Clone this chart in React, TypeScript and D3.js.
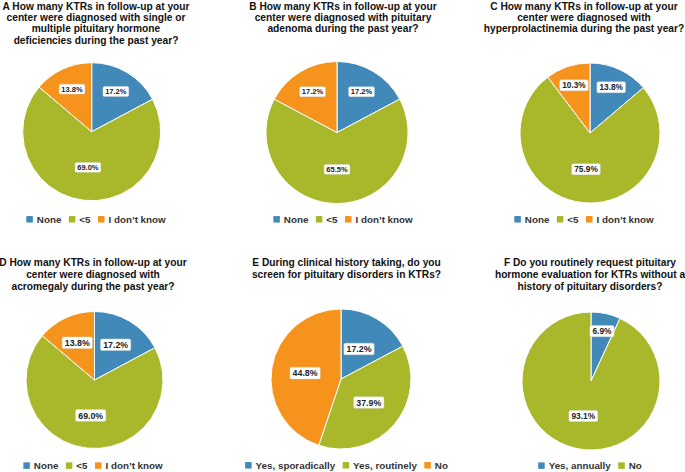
import * as d3 from 'd3'

const W = 685
const H = 472

const countCategories = ['None', '<5', 'I don\u2019t know']
const screenCategories = ['Yes, sporadically', 'Yes, routinely', 'No']
const evalCategories = ['Yes, annually', 'No']

const valuesA = [17.2, 69.0, 13.8]
const valuesB = [17.2, 65.5, 17.2]
const valuesC = [13.8, 75.9, 10.3]
const valuesD = [17.2, 69.0, 13.8]
const valuesE = [17.2, 37.9, 44.8]
const valuesF = [6.9, 93.1]

const titleA = [
  'A How many KTRs in follow-up at your',
  'center were diagnosed with single or',
  'multiple pituitary hormone',
  'deficiencies during the past year?',
]
const titleB = [
  'B How many KTRs in follow-up at your',
  'center were diagnosed with pituitary',
  'adenoma during the past year?',
]
const titleC = [
  'C How many KTRs in follow-up at your',
  'center were diagnosed with',
  'hyperprolactinemia during the past year?',
]
const titleD = [
  'D How many KTRs in follow-up at your',
  'center were diagnosed with',
  'acromegaly during the past year?',
]
const titleE = [
  'E During clinical history taking, do you',
  'screen for pituitary disorders in KTRs?',
]
const titleF = [
  'F Do you routinely request pituitary',
  'hormone evaluation for KTRs without a',
  'history of pituitary disorders?',
]

const COLORS = ['#4189b9', '#a8b82a', '#f6931c']
const FONT = '"Liberation Sans", Arial, sans-serif'

// layout per panel: title/legend center, pie center and radius,
// label font size and label distance (fraction of radius) for small slices
const panels = [
  { title: titleA, values: valuesA, cats: countCategories, tx: 96, ty: 5.8, lh: 11.4, cx: 91.7, cy: 131.7, r: 69, ly: 219.3, fs: 7.5, lk: 0.68 },
  { title: titleB, values: valuesB, cats: countCategories, tx: 343, ty: 5.8, lh: 11.4, cx: 337, cy: 132.5, r: 71, ly: 219.3, fs: 7.5, lk: 0.67 },
  { title: titleC, values: valuesC, cats: countCategories, tx: 584, ty: 5.8, lh: 11.4, cx: 590, cy: 133, r: 70, ly: 219.3, fs: 8.3, lk: 0.72 },
  { title: titleD, values: valuesD, cats: countCategories, tx: 93, ty: 262.2, lh: 12.1, cx: 94.5, cy: 380, r: 68.5, ly: 465.6, fs: 8.8, lk: 0.6 },
  { title: titleE, values: valuesE, cats: screenCategories, tx: 346.5, ty: 261.8, lh: 12.1, cx: 341, cy: 379, r: 70, ly: 465.3, fs: 8.8, lk: 0.5 },
  { title: titleF, values: valuesF, cats: evalCategories, tx: 590, ty: 262.2, lh: 12.1, cx: 591, cy: 381, r: 69, ly: 465.6, fs: 8.4, lk: 0.74 },
]

let ctx: CanvasRenderingContext2D | null = null
function textWidth(s: string, size: number) {
  if (!ctx) ctx = document.createElement('canvas').getContext('2d')
  if (!ctx) return s.length * size * 0.55
  ctx.font = `bold ${size}px ${FONT}`
  return ctx.measureText(s).width
}

const pie = d3.pie<number>().sort(null).value(d => d)

function PiePanel({ p }: { p: typeof panels[number] }) {
  const arcs = pie(p.values)
  const arc = d3.arc<d3.PieArcDatum<number>>().innerRadius(0).outerRadius(p.r)
  const legendSize = 9.8
  const sq = 6.5

  // legend items laid out left to right and centered
  const items = p.cats.map(c => ({ c, w: sq + 4 + textWidth(c, legendSize) }))
  const gap = 7.5
  const total = d3.sum(items, d => d.w) + gap * (items.length - 1)
  let x0 = p.tx - total / 2
  const legend = items.map((it, i) => {
    const x = x0
    x0 += it.w + gap
    return { ...it, x, i }
  })

  const bh = p.fs * 1.32
  return (
    <g>
      {p.title.map((line, i) => (
        <text key={i} x={p.tx} y={p.ty + i * p.lh + 3.7} textAnchor="middle"
          fontFamily={FONT} fontWeight="bold" fontSize={10.2} fill="#111">
          {line}
        </text>
      ))}
      <g transform={`translate(${p.cx},${p.cy})`}>
        {arcs.map((a, i) => (
          <path key={i} d={arc(a) || ''} fill={COLORS[i]} stroke="#fff" strokeWidth={1} />
        ))}
        {arcs.map((a, i) => {
          const mid = (a.startAngle + a.endAngle) / 2
          const lr = p.r * (a.value > 35 ? 0.52 : p.lk)
          const x = lr * Math.sin(mid)
          const y = -lr * Math.cos(mid)
          const label = `${a.value.toFixed(1)}%`
          const tw = textWidth(label, p.fs)
          const pad = p.fs * 0.3
          return (
            <g key={i} transform={`translate(${x},${y})`}>
              <rect x={-tw / 2 - pad} y={-bh / 2} width={tw + pad * 2} height={bh} rx={1.5}
                fill="#fff" stroke="#d9d9d9" strokeWidth={0.4} />
              <text x={0} y={p.fs * 0.36} textAnchor="middle" fontFamily={FONT}
                fontWeight="bold" fontSize={p.fs} fill="#222">
                {label}
              </text>
            </g>
          )
        })}
      </g>
      {legend.map(l => (
        <g key={l.c} transform={`translate(${l.x},${p.ly})`}>
          <rect x={0} y={-sq / 2} width={sq} height={sq} fill={COLORS[l.i]} />
          <text x={sq + 4} y={3.5} fontFamily={FONT} fontWeight="bold"
            fontSize={legendSize} fill="#333">
            {l.c}
          </text>
        </g>
      ))}
    </g>
  )
}

export default function App() {
  return (
    <svg width={W} height={H} style={{ position: 'absolute', left: 0, top: 0, background: '#fff' }}>
      <rect width={W} height={H} fill="#fff" />
      {panels.map((p, i) => (
        <PiePanel key={i} p={p} />
      ))}
    </svg>
  )
}
